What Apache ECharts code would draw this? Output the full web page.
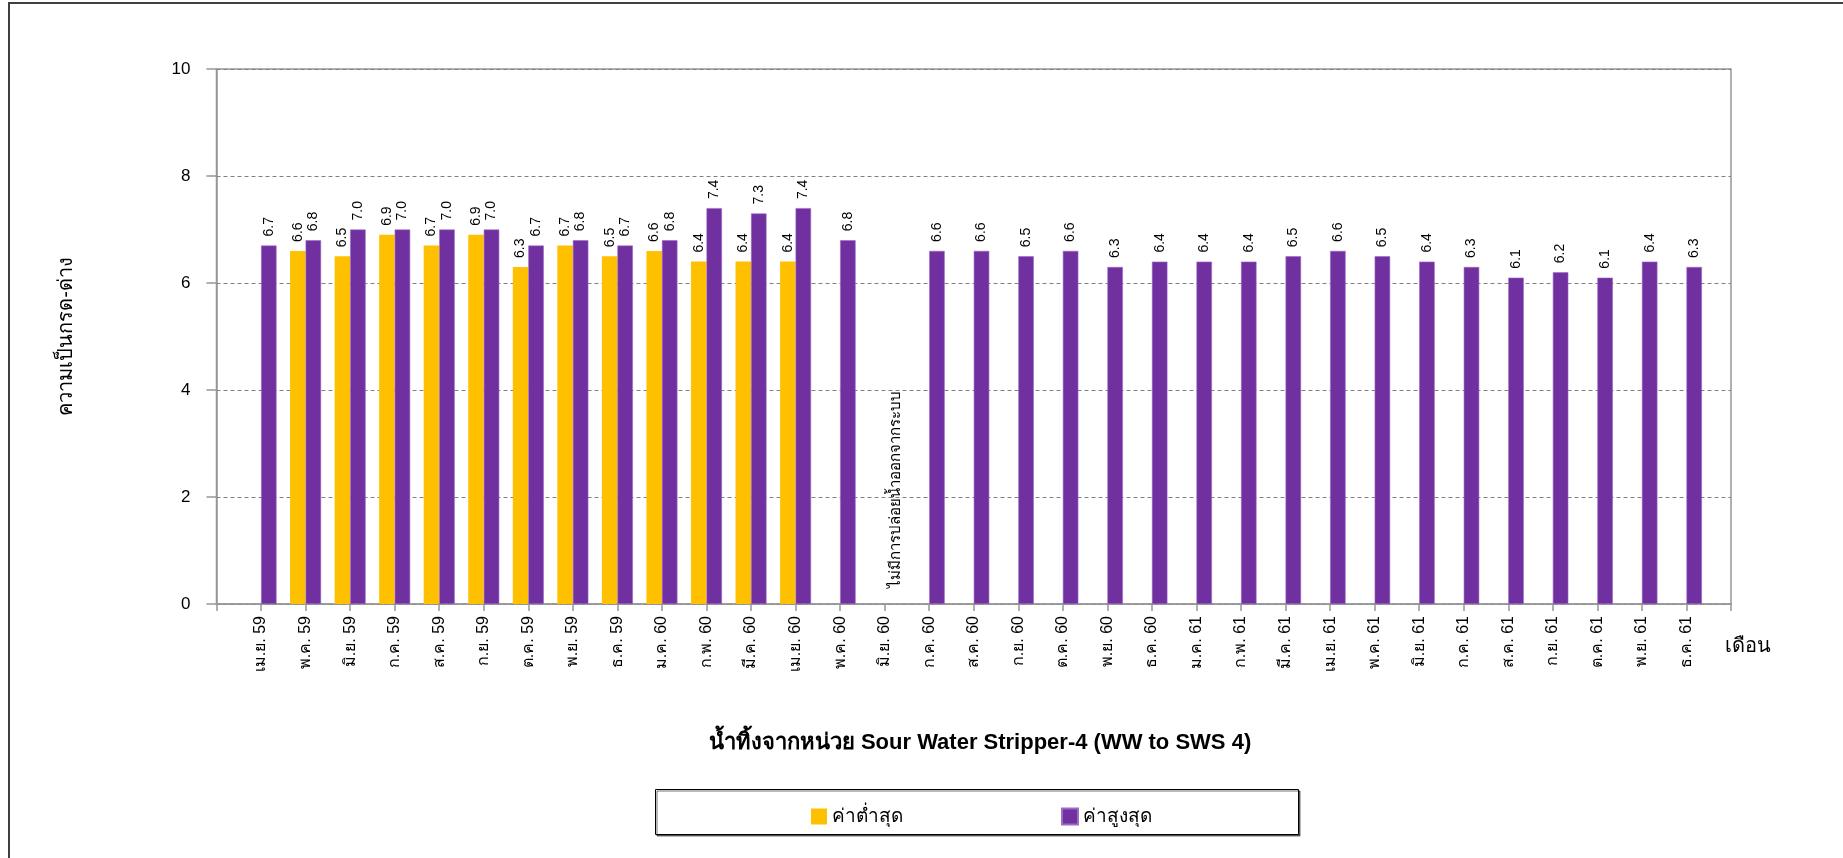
<!DOCTYPE html>
<html>
<head>
<meta charset="utf-8">
<script src="https://cdn.jsdelivr.net/npm/echarts@6/dist/echarts.min.js"></script>
<style>
  html, body { margin: 0; padding: 0; background: #fff; }
  #chart { width: 1843px; height: 858px; }
</style>
</head>
<body>
<div id="chart"></div>
<script>
// Monthly pH of effluent from the Sour Water Stripper-4 unit
const months = [
  'เม.ย. 59', 'พ.ค. 59', 'มิ.ย. 59', 'ก.ค. 59', 'ส.ค. 59', 'ก.ย. 59', 'ต.ค. 59', 'พ.ย. 59', 'ธ.ค. 59',
  'ม.ค. 60', 'ก.พ. 60', 'มี.ค. 60', 'เม.ย. 60', 'พ.ค. 60', 'มิ.ย. 60', 'ก.ค. 60', 'ส.ค. 60', 'ก.ย. 60',
  'ต.ค. 60', 'พ.ย. 60', 'ธ.ค. 60', 'ม.ค. 61', 'ก.พ. 61', 'มี.ค. 61', 'เม.ย. 61', 'พ.ค. 61', 'มิ.ย. 61',
  'ก.ค. 61', 'ส.ค. 61', 'ก.ย. 61', 'ต.ค. 61', 'พ.ย. 61', 'ธ.ค. 61'
];
const minValues = [
  null, 6.6, 6.5, 6.9, 6.7, 6.9, 6.3, 6.7, 6.5,
  6.6, 6.4, 6.4, 6.4, null, null, null, null, null,
  null, null, null, null, null, null, null, null, null,
  null, null, null, null, null, null
];
const maxValues = [
  6.7, 6.8, 7.0, 7.0, 7.0, 7.0, 6.7, 6.8, 6.7,
  6.8, 7.4, 7.3, 7.4, 6.8, null, 6.6, 6.6, 6.5,
  6.6, 6.3, 6.4, 6.4, 6.4, 6.5, 6.6, 6.5, 6.4,
  6.3, 6.1, 6.2, 6.1, 6.4, 6.3
];
const seriesNames = ['ค่าต่ำสุด', 'ค่าสูงสุด'];
const yAxisTitle = 'ความเป็นกรด-ด่าง';
const xAxisTitle = 'เดือน';
const chartTitle = 'น้ำทิ้งจากหน่วย Sour Water Stripper-4 (WW to SWS 4)';
const noDischargeMonth = 'มิ.ย. 60';
const noDischargeNote = 'ไม่มีการปล่อยน้ำออกจากระบบ';

const FONT = "'Liberation Sans', Arial, sans-serif";
const YELLOW = '#FFC000';
const PURPLE = '#7030A0';

// Empty slot at both ends so each month sits on a tick, half a step in from the frame
const axisCats = [''].concat(months, ['\u200b']);
const pad = arr => [null].concat(arr, [null]);

const chart = echarts.init(document.getElementById('chart'), null, { renderer: 'canvas' });

const barLabel = {
  show: true,
  position: 'top',
  rotate: 90,
  align: 'left',
  verticalAlign: 'middle',
  distance: 9,
  color: '#000',
  fontFamily: FONT,
  fontSize: 14,
  formatter: p => (p.value == null ? '' : Number(p.value).toFixed(1))
};

const option = {
  backgroundColor: '#fff',
  animation: false,
  textStyle: { fontFamily: FONT },
  title: {
    text: chartTitle,
    left: 975,
    top: 727,
    textAlign: 'center',
    textStyle: { fontFamily: FONT, fontSize: 22, fontWeight: 'bold', color: '#000' }
  },
  legend: {
    data: seriesNames,
    left: 806,
    top: 802,
    itemWidth: 16,
    itemHeight: 16,
    itemGap: 158,
    icon: 'rect',
    z: 10,
    textStyle: { fontFamily: FONT, fontSize: 19, color: '#000' }
  },
  grid: {
    left: 216.5,
    right: 112,
    top: 69,
    bottom: 254,
    show: true,
    borderColor: '#969696',
    borderWidth: 1.5,
    containLabel: false
  },
  xAxis: {
    type: 'category',
    data: axisCats,
    boundaryGap: false,
    axisLine: { lineStyle: { color: '#969696', width: 1.5 } },
    axisTick: { show: true, interval: 0, length: 7, lineStyle: { color: '#969696', width: 1.5 } },
    axisLabel: {
      interval: 0,
      rotate: 90,
      margin: 12,
      color: '#000',
      fontFamily: FONT,
      fontSize: 16
    },
    splitLine: { show: false }
  },
  yAxis: {
    type: 'value',
    min: 0,
    max: 10,
    interval: 2,
    name: yAxisTitle,
    nameLocation: 'middle',
    nameGap: 140,
    nameRotate: 90,
    nameTextStyle: { fontFamily: FONT, fontSize: 20, color: '#000' },
    axisLine: { show: true, lineStyle: { color: '#969696', width: 1.5 } },
    axisTick: { show: true, length: 10, lineStyle: { color: '#969696', width: 1.5 } },
    axisLabel: { margin: 26, color: '#000', fontFamily: FONT, fontSize: 17 },
    splitLine: { show: true, lineStyle: { color: '#808080', type: [4, 3], width: 1 } }
  },
  series: [
    {
      name: seriesNames[0],
      type: 'bar',
      data: pad(minValues),
      barWidth: 15.5,
      barGap: '0%',
      itemStyle: { color: YELLOW },
      label: barLabel
    },
    {
      name: seriesNames[1],
      type: 'bar',
      data: pad(maxValues),
      barWidth: 15.5,
      barGap: '0%',
      itemStyle: { color: PURPLE, borderColor: '#9a6cc4', borderWidth: 0.6 },
      label: barLabel
    }
  ]
};

chart.setOption(option);

// Annotations placed through the axis scales
const noteIdx = months.indexOf(noDischargeMonth) + 1;
const notePt = chart.convertToPixel({ xAxisIndex: 0, yAxisIndex: 0 }, [noteIdx, 0]);
const axisEnd = chart.convertToPixel({ xAxisIndex: 0, yAxisIndex: 0 }, [axisCats.length - 1, 0]);

chart.setOption({
  graphic: [
    {
      type: 'polyline',
      silent: true,
      shape: { points: [[9, 858], [9, 3], [1843, 3]] },
      style: { stroke: '#404040', lineWidth: 2, fill: null }
    },
    {
      type: 'rect',
      silent: true,
      z: 0,
      shape: { x: 655.5, y: 789.5, width: 643, height: 45 },
      style: {
        fill: '#fff', stroke: '#000', lineWidth: 1,
        shadowColor: 'rgba(0,0,0,0.55)', shadowOffsetX: 1.5, shadowOffsetY: 1.5, shadowBlur: 0
      }
    },
    {
      type: 'text',
      silent: true,
      x: notePt[0] + 11,
      y: notePt[1] - 16,
      rotation: Math.PI / 2,
      style: {
        text: noDischargeNote,
        fill: '#000',
        font: '15px ' + FONT,
        align: 'left',
        verticalAlign: 'middle'
      }
    },
    {
      type: 'text',
      silent: true,
      x: axisEnd[0] - 6,
      y: axisEnd[1] + 42,
      style: {
        text: xAxisTitle,
        fill: '#000',
        font: '20px ' + FONT,
        align: 'left',
        verticalAlign: 'middle'
      }
    }
  ]
});
</script>
</body>
</html>
